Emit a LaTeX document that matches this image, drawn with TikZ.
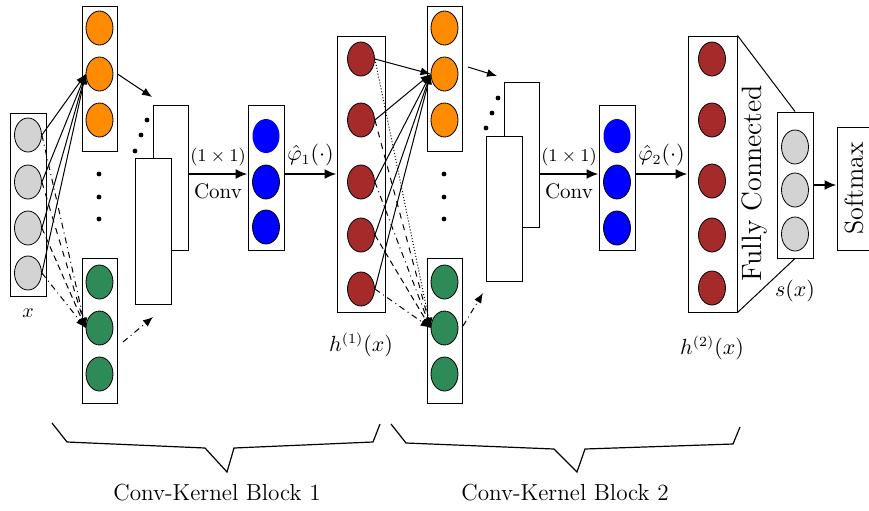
\documentclass[tikz,border=0pt]{standalone}
\usepackage{fontspec}
\usepackage{tikz}
\usetikzlibrary{shapes,arrows.meta,positioning}

\definecolor{inGray}{HTML}{D3D3D3}
\definecolor{kOrange}{HTML}{FF8C00}
\definecolor{kGreen}{HTML}{2E8B57}
\definecolor{kRed}{HTML}{A52A2A}

\tikzset{
	colbox/.style={draw,line width=0.5pt,fill=white,inner sep=0pt},
	neuron/.style={ellipse,draw,line width=0.4pt,minimum width=13.5pt,minimum height=17pt,inner sep=0pt},
	thinarr/.style={-{Latex[length=5pt,width=4pt]},line width=0.5pt},
	convarr/.style={-{Latex[length=6pt,width=5pt]},line width=1pt},
	bracefont/.style={font=\fontsize{11.6}{14}\selectfont},
	kernfont/.style={font=\fontsize{8.8}{10}\selectfont},
	convfont/.style={font=\fontsize{10.5}{12}\selectfont}
}

\begin{document}
\begin{tikzpicture}[x=0.5pt,y=-0.5pt]
	\useasboundingbox (0,0) rectangle (869,510);

	% input
	\node[colbox,minimum width=18pt,minimum height=91.5pt] (inbox) at (28,204.5) {};
	\foreach \y [count=\n] in {135,182,228,273}
		\node[neuron,fill=inGray] (in\n) at (28,\y) {};
	\node at (28,313) {$x$};

	% block 1
	\node[colbox,minimum width=17.5pt,minimum height=72.5pt] (boxA) at (99.5,78.5) {};
	\node[colbox,minimum width=17.5pt,minimum height=72.5pt] (boxB) at (99.5,330.5) {};
	\foreach \y [count=\n] in {28,74,120} {
		\node[neuron,fill=kOrange] (oA\n) at (99.5,\y) {};
		\node[neuron,fill=kGreen] (gA\n) at (99.5,\y+254) {};
	}
	\foreach \y in {174,197,219}
		\fill (99,\y) circle (1.2pt);

	\node[colbox,minimum width=17.5pt,minimum height=72.5pt] (backA) at (170.5,177.5) {};
	\node[colbox,minimum width=18pt,minimum height=73pt] (frontA) at (153,231) {};
	\foreach \x/\y in {147/120,141/135,135/151}
		\fill (\x,\y) circle (1.2pt);

	\node[colbox,minimum width=18pt,minimum height=72.5pt] (blueA) at (266,177.5) {};
	\foreach \y/\d [count=\n] in {136/none,182/black,227/black}
		\node[neuron,fill=blue,draw=\d] (bA\n) at (266,\y) {};

	\node[colbox,minimum width=24pt,minimum height=138pt] (hboxA) at (361,174) {};
	\foreach \y [count=\n] in {59,120,182,235,289}
		\node[neuron,fill=kRed] (hA\n) at (361,\y) {};
	\node[convfont] at (361,345) {$h^{(1)}(x)$};

	% block 2
	\node[colbox,minimum width=17.5pt,minimum height=72.5pt] (boxC) at (444.5,78.5) {};
	\node[colbox,minimum width=17.5pt,minimum height=72.5pt] (boxD) at (444.5,330.5) {};
	\foreach \y [count=\n] in {28,74,120} {
		\node[neuron,fill=kOrange] (oB\n) at (444.5,\y) {};
		\node[neuron,fill=kGreen] (gB\n) at (444.5,\y+254) {};
	}
	\foreach \y in {174,197,219}
		\fill (444,\y) circle (1.2pt);

	\node[colbox,minimum width=17.5pt,minimum height=72.5pt] (backB) at (521.5,154.5) {};
	\node[colbox,minimum width=18pt,minimum height=72.5pt] (frontB) at (504,208.5) {};
	\foreach \x/\y in {498/98,492/113,486/128}
		\fill (\x,\y) circle (1.2pt);

	\node[colbox,minimum width=18pt,minimum height=72.5pt] (blueB) at (617,177.5) {};
	\foreach \y/\d [count=\n] in {136/none,182/black,228/black}
		\node[neuron,fill=blue,draw=\d] (bB\n) at (617,\y) {};

	\node[colbox,minimum width=24.5pt,minimum height=138pt] (hboxB) at (712.5,174) {};
	\foreach \y [count=\n] in {59,120,181,235,288}
		\node[neuron,fill=kRed] (hB\n) at (712,\y) {};
	\node[convfont] at (712,348) {$h^{(2)}(x)$};

	% output
	\node[colbox,minimum width=18pt,minimum height=73pt] (sbox) at (795,185) {};
	\foreach \y [count=\n] in {147,190,234}
		\node[neuron,fill=inGray] (sC\n) at (795,\y) {};
	\node[convfont] at (795,291) {$s(x)$};
	\node[colbox,minimum width=17pt,minimum height=61.5pt,
		label={[rotate=90,font=\fontsize{13}{15}\selectfont]center:Softmax}] (smax) at (854,188.5) {};
	\node[rotate=90,font=\fontsize{14}{16}\selectfont] (fc) at (754,183) {Fully Connected};

	% connections block 1
	\foreach \n in {1,...,4}
		\draw[thinarr] (in\n.east) -- (oA2.west);
	\foreach \n/\s in {1/dash dot,2/dashed,3/densely dashed,4/dash dot}
		\draw[thinarr,\s] (in\n.east) -- (gA2.west);
	\coordinate (tipA) at (152,97);
	\draw[thinarr] (boxA.east |- oA2) -- (tipA);
	\coordinate (srcA) at (123,342);
	\coordinate (tipA2) at (153,317);
	\draw[thinarr,dash dot] (srcA) -- (tipA2);
	\draw[convarr] (backA.east |- hboxA) -- node[above,kernfont]{$(1\times1)$} node[below=1pt,convfont]{Conv} (blueA.west |- hboxA);
	\draw[convarr] (blueA.east |- hboxA) -- node[above,convfont]{$\hat{\varphi}_1(\cdot)$} (hboxA.west);

	% connections block 2
	\foreach \n in {1,...,5}
		\draw[thinarr] (hA\n.east) -- (oB2.west);
	\foreach \n/\s in {1/densely dotted,2/dashed,3/dash dot,4/densely dashed,5/dash dot}
		\draw[thinarr,\s] (hA\n.east) -- (gB2.west);
	\coordinate (srcB) at (468,67);
	\coordinate (tipB) at (497,76);
	\draw[thinarr] (srcB) -- (tipB);
	\coordinate (srcB2) at (463,326);
	\coordinate (tipB2) at (483,293);
	\draw[thinarr,dash dot] (srcB2) -- (tipB2);
	\draw[convarr] (backB.east |- hboxB) -- node[above,kernfont]{$(1\times1)$} node[below=1pt,convfont]{Conv} (blueB.west |- hboxB);
	\draw[convarr] (blueB.east |- hboxB) -- node[above,convfont]{$\hat{\varphi}_2(\cdot)$} (hboxB.west);

	% fully connected + softmax
	\draw[line width=0.5pt] (hboxB.north east) -- (sbox.north);
	\draw[line width=0.5pt] (hboxB.south east) -- (sbox.south);
	\draw[convarr] (sbox.east) -- (smax.west |- sbox.east);

	% braces
	\draw[line width=0.6pt] (52,423) -- (67,442) -- (205,448) -- (227,472) -- (234,448) -- (373,442) -- (380,424);
	\draw[line width=0.6pt] (391,424) -- (406,443) -- (554,449) -- (577,472) -- (585,449) -- (733,444) -- (740,427);
	\node[bracefont] (blk1) at (217,493) {Conv-Kernel Block 1};
	\node[bracefont] (blk2) at (565,493) {Conv-Kernel Block 2};
\end{tikzpicture}
\end{document}
